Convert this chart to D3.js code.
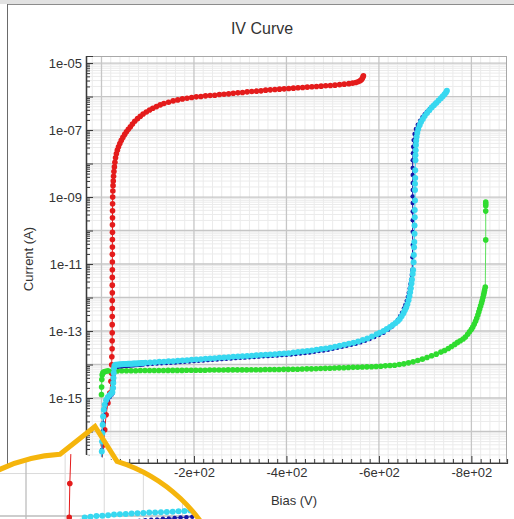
<!DOCTYPE html>
<html>
<head>
<meta charset="utf-8">
<script src="https://cdn.jsdelivr.net/npm/d3@7"></script>
<style>
  html, body { margin: 0; padding: 0; background: #fff; }
  svg { display: block; font-family: "Liberation Sans", Arial, sans-serif; }
</style>
</head>
<body>
<svg id="chart" width="514" height="519"></svg>
<script>
// ---- Sweep data: [bias (V), log10 of current (A)] per device ----
const redSweep = [
  [-1,-16.9],[-4,-16.4],[-7,-15.95],[-10,-15.5],[-14,-15.15],[-18,-14.85],[-20.5,-14.5],[-21.6,-14.25],
  [-22.1,-14.01],[-22.4,-13.77],[-23.0,-13.53],[-23.1,-13.29],[-23.2,-13.05],[-23.2,-12.81],[-23.3,-12.57],
  [-23.3,-12.33],[-23.3,-12.09],[-23.4,-11.86],[-23.4,-11.63],[-23.4,-11.4],[-23.5,-11.17],[-23.5,-10.94],
  [-23.5,-10.71],[-23.6,-10.49],[-23.6,-10.27],[-23.7,-10.05],[-23.7,-9.83],[-23.8,-9.62],[-23.9,-9.41],
  [-24.0,-9.2],[-24.2,-9.0],[-24.6,-8.82],[-25.0,-8.66],[-25.5,-8.52],[-26.1,-8.38],[-26.9,-8.24],
  [-27.9,-8.1],[-29.0,-7.96],[-30.4,-7.83],[-32.2,-7.71],[-34.3,-7.6],[-36.8,-7.5],[-39.7,-7.4],
  [-42.8,-7.31],[-46.3,-7.22],[-50.2,-7.13],[-54,-7.05],[-58,-6.98],[-62.5,-6.9],[-67,-6.82],[-72,-6.74],
  [-78,-6.66],[-84,-6.59],[-90,-6.52],[-97,-6.46],[-104,-6.4],[-111,-6.35],[-119,-6.3],[-127,-6.25],
  [-135,-6.21],[-145,-6.17],[-155,-6.13],[-165,-6.1],[-175,-6.07],[-185,-6.05],[-195,-6.03],[-205,-6.01],
  [-215,-6.0],[-225,-5.98],[-235,-5.97],[-245,-5.96],[-255,-5.94],[-265,-5.93],[-275,-5.92],[-285,-5.9],
  [-295,-5.89],[-305,-5.88],[-315,-5.86],[-325,-5.85],[-335,-5.84],[-345,-5.83],[-355,-5.81],[-365,-5.8],
  [-375,-5.79],[-385,-5.78],[-395,-5.77],[-405,-5.76],[-415,-5.75],[-425,-5.74],[-435,-5.73],[-445,-5.72],
  [-455,-5.71],[-465,-5.7],[-475,-5.69],[-485,-5.68],[-495,-5.67],[-505,-5.66],[-515,-5.645],[-525,-5.63],
  [-535,-5.615],[-543,-5.6],[-550,-5.58],[-555,-5.56],[-559,-5.53],[-562,-5.5],[-564,-5.46],[-565.5,-5.42],
  [-566.5,-5.38]
];

const greenSweep = [
  [0,-14.9],[-0.3,-14.67],[-0.7,-14.45],[-1.5,-14.31],[-3,-14.25],[-5.5,-14.22],[-9,-14.2],[-14,-14.19],
  [-24,-14.19],[-34,-14.19],[-44,-14.185],[-54,-14.185],[-64,-14.185],[-74,-14.185],[-84,-14.18],[-94,-14.18],
  [-104,-14.18],[-114,-14.18],[-124,-14.18],[-134,-14.18],[-144,-14.175],[-154,-14.175],[-164,-14.175],
  [-174,-14.175],[-184,-14.17],[-194,-14.17],[-204,-14.17],[-214,-14.17],[-224,-14.17],[-234,-14.165],
  [-244,-14.165],[-254,-14.165],[-264,-14.165],[-274,-14.16],[-284,-14.16],[-294,-14.16],[-304,-14.16],
  [-314,-14.16],[-324,-14.155],[-334,-14.155],[-344,-14.155],[-354,-14.15],[-364,-14.15],[-374,-14.15],
  [-384,-14.15],[-394,-14.145],[-404,-14.145],[-414,-14.14],[-424,-14.14],[-434,-14.135],[-444,-14.13],
  [-454,-14.13],[-464,-14.125],[-474,-14.12],[-484,-14.115],[-494,-14.11],[-504,-14.105],[-514,-14.1],
  [-524,-14.095],[-534,-14.09],[-544,-14.085],[-554,-14.08],[-564,-14.075],[-574,-14.07],[-584,-14.065],
  [-594,-14.06],[-604,-14.05],[-614,-14.04],[-624,-14.03],[-634,-14.02],[-644,-14.0],[-654,-13.98],
  [-664,-13.95],[-674,-13.92],[-684,-13.88],[-694,-13.84],[-704,-13.79],[-714,-13.74],[-724,-13.69],
  [-734,-13.63],[-742,-13.58],[-750,-13.52],[-757,-13.46],[-764,-13.4],[-770,-13.34],[-776,-13.29],
  [-782,-13.24],[-787,-13.18],[-792,-13.1],[-796,-13.02],[-800,-12.95],[-803,-12.88],[-806,-12.8],
  [-809,-12.71],[-811.5,-12.62],[-814,-12.52],[-816,-12.43],[-818,-12.34],[-820,-12.25],[-822,-12.16],
  [-823.5,-12.08],[-825,-12.0],[-826.5,-11.92],[-827.5,-11.85],[-828.5,-11.78],[-830,-11.69],[-831,-10.28],
  [-831,-9.42],[-831,-9.26],[-831,-9.2],[-831,-9.15]
];

const blueSweep = [
  [-0.5,-16.9],[-1,-16.55],[-1.7,-16.25],[-2.5,-16.0],[-3.5,-15.75],[-5,-15.52],[-7,-15.33],[-10,-15.17],
  [-14,-15.05],[-18,-14.97],[-22,-14.9],[-24.5,-14.85],[-25.5,-14.7],[-26,-14.5],[-26.5,-14.3],[-27,-14.16],
  [-28.5,-14.08],[-31,-14.065],[-34,-14.06],[-37,-14.057],[-40,-14.054],[-43,-14.05],[-46,-14.047],
  [-49,-14.044],[-52,-14.04],[-55,-14.037],[-58,-14.034],[-61,-14.03],[-64,-14.027],[-67,-14.024],
  [-70,-14.02],[-73,-14.017],[-76,-14.014],[-79,-14.011],[-82,-14.008],[-85,-14.005],[-90,-14.0],
  [-100,-13.99],[-110,-13.98],[-120,-13.97],[-130,-13.965],[-140,-13.955],[-150,-13.95],[-160,-13.94],
  [-170,-13.93],[-180,-13.92],[-190,-13.91],[-200,-13.9],[-210,-13.89],[-220,-13.88],[-230,-13.87],
  [-240,-13.86],[-250,-13.85],[-260,-13.84],[-270,-13.83],[-280,-13.82],[-290,-13.81],[-300,-13.8],
  [-310,-13.795],[-320,-13.785],[-330,-13.775],[-340,-13.765],[-350,-13.755],[-360,-13.75],[-370,-13.74],
  [-380,-13.73],[-390,-13.72],[-400,-13.71],[-410,-13.7],[-420,-13.685],[-430,-13.67],[-440,-13.655],
  [-450,-13.64],[-460,-13.62],[-470,-13.6],[-480,-13.58],[-490,-13.56],[-500,-13.53],[-510,-13.5],
  [-520,-13.47],[-530,-13.44],[-540,-13.41],[-550,-13.38],[-560,-13.34],[-570,-13.29],[-580,-13.24],
  [-590,-13.18],[-600,-13.12],[-610,-13.05],[-620,-12.96],[-628,-12.87],[-635,-12.77],[-641,-12.66],
  [-646,-12.55],[-650,-12.45],[-654,-12.33],[-657,-12.22],[-660,-12.1],[-662.5,-11.98],[-664.5,-11.86],
  [-666.5,-11.73],[-668,-11.6],[-669.5,-11.47],[-671,-11.33],[-672,-11.18],[-672.5,-10.8],[-673,-10.43],
  [-673,-10.04],[-673,-9.69],[-673,-9.43],[-673,-9.18],[-673,-8.98],[-673,-8.79],[-673,-8.58],[-673,-8.34],
  [-673,-8.13],[-673,-7.9],[-673.5,-7.69],[-674,-7.5],[-675,-7.3],[-677,-7.12],[-680,-6.97],[-684,-6.84],
  [-689,-6.72],[-694,-6.62],[-699,-6.53],[-704,-6.45],[-710,-6.37],[-716,-6.29],[-722,-6.21],[-728,-6.14],
  [-733,-6.07],[-738,-6.0],[-742,-5.94],[-745,-5.88]
];

const cyanSweep = [
  [-0.3,-16.9],[-0.7,-16.6],[-1.2,-16.3],[-1.8,-16.05],[-2.5,-15.8],[-3.5,-15.55],[-5,-15.35],[-7,-15.2],
  [-10,-15.07],[-13.5,-14.98],[-17,-14.92],[-20.5,-14.87],[-23.5,-14.83],[-25,-14.7],[-25.5,-14.55],
  [-26,-14.4],[-26.5,-14.25],[-27,-14.12],[-28,-14.04],[-30,-14.01],[-33,-14.005],[-36,-14.0],
  [-39,-13.998],[-42,-13.995],[-45,-13.99],[-48,-13.988],[-51,-13.985],[-54,-13.982],[-57,-13.98],
  [-60,-13.978],[-63,-13.976],[-66,-13.975],[-69,-13.973],[-72,-13.971],[-75,-13.97],[-78,-13.967],
  [-81,-13.964],[-84,-13.961],[-87,-13.958],[-90,-13.955],[-95,-13.95],[-105,-13.94],[-115,-13.93],
  [-125,-13.92],[-135,-13.915],[-145,-13.905],[-155,-13.9],[-165,-13.89],[-175,-13.88],[-185,-13.87],
  [-195,-13.86],[-205,-13.85],[-215,-13.84],[-225,-13.83],[-235,-13.82],[-245,-13.81],[-255,-13.8],
  [-265,-13.79],[-275,-13.78],[-285,-13.77],[-295,-13.76],[-305,-13.75],[-315,-13.745],[-325,-13.735],
  [-335,-13.725],[-345,-13.715],[-355,-13.705],[-365,-13.7],[-375,-13.69],[-385,-13.68],[-395,-13.67],
  [-405,-13.66],[-415,-13.645],[-425,-13.63],[-435,-13.615],[-445,-13.6],[-455,-13.58],[-465,-13.56],
  [-475,-13.54],[-485,-13.52],[-495,-13.5],[-505,-13.47],[-515,-13.44],[-525,-13.41],[-535,-13.38],
  [-545,-13.35],[-555,-13.31],[-565,-13.27],[-575,-13.22],[-585,-13.16],[-595,-13.1],[-602,-13.05],
  [-610,-13.0],[-617,-12.94],[-624,-12.88],[-630,-12.82],[-636,-12.76],[-641,-12.7],[-645,-12.64],
  [-649,-12.56],[-653,-12.47],[-656,-12.38],[-659,-12.3],[-661.5,-12.2],[-664,-12.08],[-666,-11.96],
  [-667.5,-11.84],[-669,-11.72],[-670.5,-11.58],[-671.5,-11.46],[-673,-11.3],[-674,-11.18],[-675,-10.95],
  [-675.5,-10.73],[-676,-10.5],[-676.5,-10.34],[-677,-10.1],[-677,-9.85],[-677.5,-9.6],[-677.5,-9.39],
  [-678,-9.1],[-678,-8.79],[-678,-8.6],[-678.5,-8.43],[-678.5,-8.2],[-679,-7.9],[-679,-7.75],[-679.5,-7.6],
  [-680,-7.45],[-680.5,-7.32],[-681.5,-7.2],[-683,-7.08],[-685,-6.97],[-688,-6.86],[-691,-6.76],
  [-695,-6.67],[-699,-6.58],[-704,-6.49],[-709,-6.41],[-714,-6.33],[-719,-6.26],[-724,-6.19],[-729,-6.12],
  [-734,-6.05],[-738,-5.99],[-742,-5.93],[-745,-5.88],[-747,-5.83]
];

// Axis ticks
const biasTickValues = [-200, -400, -600, -800];
const biasTickLabels = ["-2e+02", "-4e+02", "-6e+02", "-8e+02"];
const currentTickValues = [1e-5, 1e-7, 1e-9, 1e-11, 1e-13, 1e-15];
const currentTickLabels = ["1e-05", "1e-07", "1e-09", "1e-11", "1e-13", "1e-15"];

// ---- Styling / layout ----
const series = [
  { data: redSweep,   dot: "#e41b1b", line: "#e41b1b", r: 2.8 },
  { data: greenSweep, dot: "#2fdc2f", line: "#5ee05e", r: 2.8 },
  { data: blueSweep,  dot: "#1616a6", line: "#1616a6", r: 2.2 },
  { data: cyanSweep,  dot: "#38d8f0", line: "#38d8f0", r: 3.0 }
];

const W = 514, H = 519;
const plot = { left: 86, right: 507, top: 56, bottom: 463 };

const svg = d3.select("#chart");
const defs = svg.append("defs");

const x = d3.scaleLinear().domain([33.5, -877]).range([plot.left, plot.right]);
const y = d3.scaleLog().domain([Math.pow(10, -16.94), Math.pow(10, -4.79)]).range([plot.bottom, plot.top]);

// Page background and widget frame
svg.append("rect").attr("width", W).attr("height", H).attr("fill", "#fff");
svg.append("rect").attr("x", 0).attr("y", 0).attr("width", W).attr("height", 4).attr("fill", "#e2e2e2");
svg.append("line").attr("x1", 7).attr("x2", W).attr("y1", 4.5).attr("y2", 4.5).attr("stroke", "#8c8c8c");
svg.append("line").attr("x1", 7.5).attr("x2", 7.5).attr("y1", 4).attr("y2", H).attr("stroke", "#6a6a6a");

svg.append("text").attr("x", 262).attr("y", 34).attr("text-anchor", "middle")
  .attr("font-size", 16).attr("fill", "#333").text("IV Curve");

// Grid values
const biasMajor = [0, -200, -400, -600, -800];
const biasMinor = d3.range(20, -877, -20).filter(v => !biasMajor.includes(v));
const curMajor = [], curMinor = [];
for (let e = -17; e <= -5; e++) {
  const v = Math.pow(10, e);
  if (v >= y.domain()[0] && v <= y.domain()[1]) curMajor.push(v);
  for (let k = 2; k <= 9; k++) {
    const m = k * Math.pow(10, e);
    if (m >= y.domain()[0] && m <= y.domain()[1]) curMinor.push(m);
  }
}

defs.append("clipPath").attr("id", "plotClip").append("rect")
  .attr("x", plot.left).attr("y", plot.top)
  .attr("width", plot.right - plot.left).attr("height", plot.bottom - plot.top);

function drawGrid(g, xs, ys, x0, x1, y0, y1, minorColor, majorColor) {
  g.append("g").selectAll("line").data(biasMinor).join("line")
    .attr("x1", d => xs(d)).attr("x2", d => xs(d)).attr("y1", y0).attr("y2", y1)
    .attr("stroke", minorColor).attr("stroke-width", 1);
  g.append("g").selectAll("line").data(curMinor).join("line")
    .attr("y1", d => ys(d)).attr("y2", d => ys(d)).attr("x1", x0).attr("x2", x1)
    .attr("stroke", minorColor).attr("stroke-width", 1);
  g.append("g").selectAll("line").data(biasMajor).join("line")
    .attr("x1", d => xs(d)).attr("x2", d => xs(d)).attr("y1", y0).attr("y2", y1)
    .attr("stroke", majorColor).attr("stroke-width", 1.3);
  g.append("g").selectAll("line").data(curMajor).join("line")
    .attr("y1", d => ys(d)).attr("y2", d => ys(d)).attr("x1", x0).attr("x2", x1)
    .attr("stroke", majorColor).attr("stroke-width", 1.3);
}

function drawSeries(g, xs, ys) {
  series.forEach(s => {
    const line = d3.line().x(d => xs(d[0])).y(d => ys(Math.pow(10, d[1])));
    g.append("path").datum(s.data).attr("d", line)
      .attr("fill", "none").attr("stroke", s.line).attr("stroke-width", 1);
    g.append("g").selectAll("circle").data(s.data).join("circle")
      .attr("cx", d => xs(d[0])).attr("cy", d => ys(Math.pow(10, d[1])))
      .attr("r", s.r).attr("fill", s.dot);
  });
}

// Main plot
const plotG = svg.append("g").attr("clip-path", "url(#plotClip)");
drawGrid(plotG, x, y, plot.left, plot.right, plot.top, plot.bottom, "#ebebeb", "#c6c6c6");
drawSeries(plotG, x, y);

// Plot border
svg.append("rect").attr("x", plot.left + 0.5).attr("y", plot.top + 0.5)
  .attr("width", plot.right - plot.left - 1).attr("height", plot.bottom - plot.top - 1)
  .attr("fill", "none").attr("stroke", "#a8a8a8");

// Axes (ticks point into the plot)
const axisColor = "#3a3a3a";
const bottomMinor = svg.append("g").attr("transform", `translate(0,${plot.bottom})`)
  .call(d3.axisBottom(x).tickValues(biasMinor).tickSize(-4).tickFormat(""));
const bottomMajor = svg.append("g").attr("transform", `translate(0,${plot.bottom})`)
  .call(d3.axisBottom(x).tickValues(biasTickValues).tickSizeInner(-7).tickSizeOuter(0).tickPadding(5)
    .tickFormat((d, i) => biasTickLabels[i]));
const leftMinor = svg.append("g").attr("transform", `translate(${plot.left},0)`)
  .call(d3.axisLeft(y).tickValues(curMinor).tickSize(-4).tickFormat(""));
const leftMajor = svg.append("g").attr("transform", `translate(${plot.left},0)`)
  .call(d3.axisLeft(y).tickValues(curMajor).tickSize(-7).tickFormat(""));
const leftLabels = svg.append("g").attr("transform", `translate(${plot.left},0)`)
  .call(d3.axisLeft(y).tickValues(currentTickValues).tickSizeInner(-7).tickSizeOuter(0).tickPadding(4)
    .tickFormat((d, i) => currentTickLabels[i]));
[bottomMinor, bottomMajor, leftMinor, leftMajor, leftLabels].forEach(g => {
  g.attr("color", axisColor);
  g.select(".domain").attr("stroke-width", 1.2);
  g.selectAll("text").attr("font-size", 13).attr("fill", "#333")
    .attr("font-family", "'Liberation Sans', Arial, sans-serif");
});

svg.append("text").attr("transform", "translate(33,259) rotate(-90)")
  .attr("text-anchor", "middle").attr("font-size", 13).attr("fill", "#333").text("Current (A)");
svg.append("text").attr("x", 294).attr("y", 505)
  .attr("text-anchor", "middle").attr("font-size", 13).attr("fill", "#333").text("Bias (V)");

// ---- Magnifier lens over the low-bias corner ----
const lens = { cx: 69, cy: 616, r: 162 };
defs.append("clipPath").attr("id", "lensClip").append("circle")
  .attr("cx", lens.cx).attr("cy", lens.cy).attr("r", lens.r);

// Zoomed scales: about 4.2x around the breakdown knee near 1e-14 A
const xz = d3.scaleLinear().domain([0, -100]).range([26, 26 + 100 * 1.956]);
const yz = d3.scaleLog().domain([1e-14, 1e-13]).range([516, 516 - 141]);

const lensG = svg.append("g").attr("clip-path", "url(#lensClip)");
lensG.append("rect").attr("x", lens.cx - lens.r).attr("y", lens.cy - lens.r)
  .attr("width", 2 * lens.r).attr("height", 2 * lens.r).attr("fill", "#fff");
drawGrid(lensG, xz, yz, lens.cx - lens.r, lens.cx + lens.r, lens.cy - lens.r, lens.cy + lens.r, "#dadada", "#bdbdbd");
drawSeries(lensG, xz, yz);

// Lens rim with pointer
const ang = xx => Math.sqrt(lens.r * lens.r - (xx - lens.cx) * (xx - lens.cx));
const pA = [-20, lens.cy - ang(-20)];
const pB = [60, lens.cy - ang(60)];
const pC = [117, lens.cy - ang(117)];
const pEndY = 560, pEnd = [lens.cx + Math.sqrt(lens.r * lens.r - (pEndY - lens.cy) ** 2), pEndY];
const tip = [95, 426.5];
svg.append("path")
  .attr("d", `M${pA[0]},${pA[1]} A${lens.r},${lens.r} 0 0 1 ${pB[0]},${pB[1]} L${tip[0]},${tip[1]} L${pC[0]},${pC[1]} A${lens.r},${lens.r} 0 0 1 ${pEnd[0]},${pEnd[1]}`)
  .attr("fill", "none").attr("stroke", "#f5b50c").attr("stroke-width", 5)
  .attr("stroke-linejoin", "miter");
</script>
</body>
</html>
